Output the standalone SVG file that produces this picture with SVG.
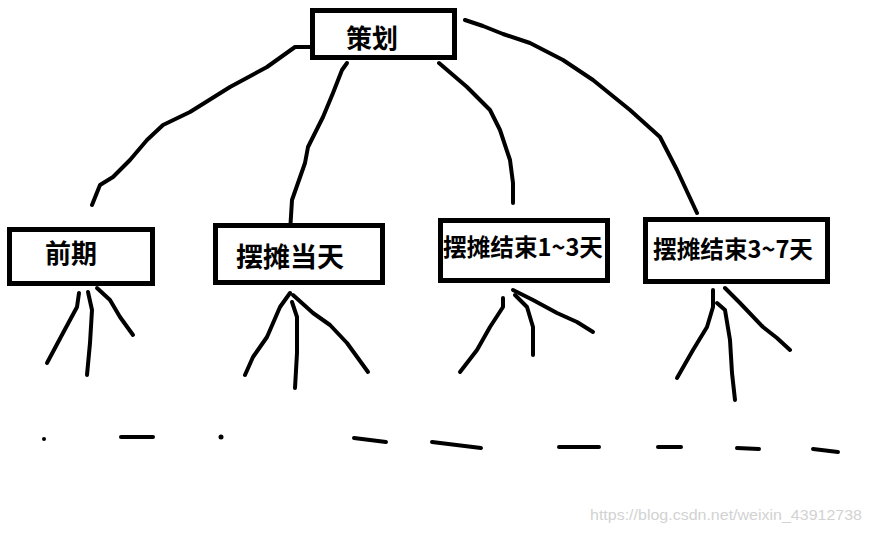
<svg xmlns="http://www.w3.org/2000/svg" width="872" height="533" viewBox="0 0 872 533">
<style>
.box{fill:#fff;stroke:#000;stroke-width:5}
.lbl{font-family:"Noto Sans CJK SC","Microsoft YaHei",sans-serif;font-weight:bold;fill:#000;text-anchor:middle}
.ln{fill:none;stroke:#000;stroke-width:4;stroke-linecap:round;stroke-linejoin:round}
.wm{font-family:"Liberation Sans",Arial,sans-serif;font-size:14px;fill:#d2d2d2}
</style>
<rect width="872" height="533" fill="#fff"/>
<g id="connectors">
<path class="ln" d="M310,47 L295,47 L267,67 L230,87 L190,112 L163,125 L147,140 L130,160 L113,177 L100,185 L92,205"/>
<path class="ln" d="M347,63 L342,70 L333,93 L323,117 L308,147 L305,163 L292,200 L290,232"/>
<path class="ln" d="M439,63 L467,87 L490,110 L500,130 L510,160 L513,183 L513,203"/>
<path class="ln" d="M465,20 L483,26 L503,34 L530,43 L563,60 L593,80 L630,110 L660,137 L677,170 L697,213"/>
<path class="ln" d="M79,293 L77,307 L63,333 L47,363"/>
<path class="ln" d="M88,292 L92,310 L90,343 L87,375"/>
<path class="ln" d="M97,288 L110,300 L120,317 L133,335"/>
<path class="ln" d="M290,293 L280,307 L267,337 L253,357 L245,375"/>
<path class="ln" d="M292,302 L297,317 L297,353 L295,388"/>
<path class="ln" d="M293,295 L313,313 L330,325 L347,343 L368,372"/>
<path class="ln" d="M503,298 L503,307 L490,327 L477,350 L460,372"/>
<path class="ln" d="M515,295 L527,307 L533,327 L533,355"/>
<path class="ln" d="M513,290 L533,300 L557,313 L577,322 L593,332"/>
<path class="ln" d="M713,290 L713,307 L707,327 L693,350 L677,378"/>
<path class="ln" d="M717,303 L725,310 L730,340 L732,373 L735,400"/>
<path class="ln" d="M725,288 L740,303 L763,327 L777,338 L790,350"/>
</g>
<g id="dashes">
<circle cx="44" cy="439" r="2"/>
<path class="ln" d="M121,437 L153,437"/>
<circle cx="221" cy="437" r="2.5"/>
<path class="ln" d="M354,438 L386,442"/>
<path class="ln" d="M432,442 L481,448"/>
<path class="ln" d="M559,447 L599,447"/>
<path class="ln" d="M658,447 L681,447"/>
<path class="ln" d="M737,448 L759,449"/>
<path class="ln" d="M813,449 L838,452"/>
</g>
<g id="n-cehua">
<rect class="box" x="312.5" y="10.5" width="142" height="47"/>
<text class="lbl" x="372" y="48" font-size="26">策划</text>
</g>
<g id="n-qianqi">
<rect class="box" x="9.5" y="229.5" width="143" height="54"/>
<text class="lbl" x="71" y="263" font-size="26">前期</text>
</g>
<g id="n-dangtian">
<rect class="box" x="215.5" y="225.5" width="167" height="57"/>
<text class="lbl" x="290" y="267" font-size="27">摆摊当天</text>
</g>
<g id="n-jieshu13">
<rect class="box" x="440.5" y="220.5" width="167" height="60"/>
<text class="lbl" x="523" y="256" font-size="24" textLength="160" lengthAdjust="spacingAndGlyphs">摆摊结束1~3天</text>
</g>
<g id="n-jieshu37">
<rect class="box" x="645.5" y="219.5" width="182" height="62"/>
<text class="lbl" x="733" y="258" font-size="24" textLength="160" lengthAdjust="spacingAndGlyphs">摆摊结束3~7天</text>
</g>
<text class="wm" x="590" y="520" textLength="272" lengthAdjust="spacingAndGlyphs">https://blog.csdn.net/weixin_43912738</text>
</svg>
